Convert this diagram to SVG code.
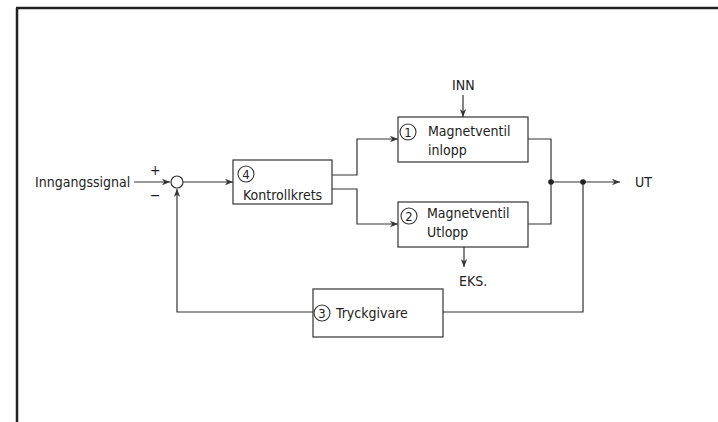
<svg xmlns="http://www.w3.org/2000/svg" width="718" height="422" viewBox="0 0 718 422">
<style>
.t{font-family:"DejaVu Sans Condensed","DejaVu Sans",sans-serif;font-size:14px;fill:#222;font-stretch:condensed}
.box{fill:none;stroke:#333;stroke-width:1.2}
.ln{fill:none;stroke:#333;stroke-width:1.2}
.num{fill:none;stroke:#333;stroke-width:1.1}
.nt{font-family:"DejaVu Sans Condensed","DejaVu Sans",sans-serif;font-size:13px;fill:#222;text-anchor:middle;font-stretch:condensed}
</style>
<defs>
<marker id="ar" viewBox="0 0 10 10" refX="10" refY="5" markerWidth="8" markerHeight="8" markerUnits="userSpaceOnUse" orient="auto">
<path d="M0,1 L10,5 L0,9 L3,5 Z" fill="#333"/>
</marker>
</defs>
<rect width="718" height="422" fill="#fff"/>
<path d="M16,8 H718 M17,8 V422" stroke="#222" stroke-width="2.5" fill="none"/>

<g id="connectors">
<path class="ln" d="M134,182 H170" marker-end="url(#ar)"/>
<path class="ln" d="M183,182 H233" marker-end="url(#ar)"/>
<path class="ln" d="M332,175 H357 V139 H398" marker-end="url(#ar)"/>
<path class="ln" d="M332,189 H357 V224 H398" marker-end="url(#ar)"/>
<path class="ln" d="M463,95 V117" marker-end="url(#ar)"/>
<path class="ln" d="M464,247 V267" marker-end="url(#ar)"/>
<path class="ln" d="M528,139 H551 V224 H528"/>
<path class="ln" d="M551,182 H620" marker-end="url(#ar)"/>
<path class="ln" d="M583,182 V312 H443"/>
<path class="ln" d="M313,312 H177 V189" marker-end="url(#ar)"/>
<circle cx="551" cy="182" r="2.8" fill="#222"/>
<circle cx="583" cy="182" r="2.8" fill="#222"/>
</g>

<g id="input">
<text class="t" x="35" y="187">Inngangssignal</text>
<text class="t" x="150" y="175">+</text>
<text class="t" x="150" y="200">−</text>
</g>

<g id="sum">
<circle cx="177" cy="182" r="6" fill="#fff" stroke="#333" stroke-width="1.2"/>
</g>

<g id="kontrollkrets">
<rect class="box" x="233" y="160" width="99" height="44"/>
<circle class="num" cx="246" cy="174" r="8"/>
<text class="nt" x="246" y="178.5">4</text>
<text class="t" x="243" y="200">Kontrollkrets</text>
</g>

<g id="magnetventil-inlopp">
<rect class="box" x="398" y="117" width="130" height="45"/>
<circle class="num" cx="408" cy="132" r="8"/>
<text class="nt" x="408" y="136.5">1</text>
<text class="t" x="428" y="136">Magnetventil</text>
<text class="t" x="428" y="155">inlopp</text>
</g>

<g id="magnetventil-utlopp">
<rect class="box" x="398" y="202" width="130" height="45"/>
<circle class="num" cx="409" cy="216" r="8"/>
<text class="nt" x="409" y="220.5">2</text>
<text class="t" x="427" y="218">Magnetventil</text>
<text class="t" x="427" y="237">Utlopp</text>
</g>

<g id="tryckgivare">
<rect class="box" x="313" y="289" width="130" height="48"/>
<circle class="num" cx="322" cy="313" r="8"/>
<text class="nt" x="322" y="317.5">3</text>
<text class="t" x="336" y="318">Tryckgivare</text>
</g>

<g id="labels">
<text class="t" x="452" y="90">INN</text>
<text class="t" x="459" y="286">EKS.</text>
<text class="t" x="635" y="187">UT</text>
</g>
</svg>
